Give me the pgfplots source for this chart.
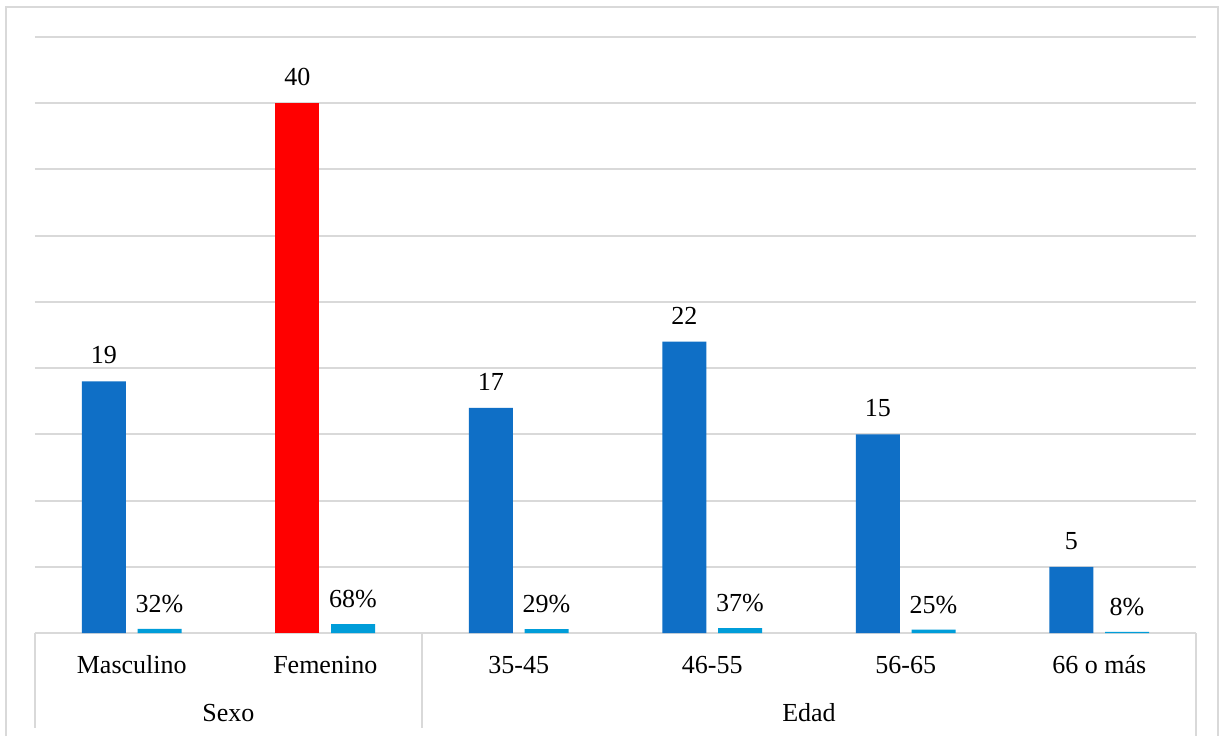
\documentclass[border=0pt]{standalone}
\usepackage{pgfplots}
\pgfplotsset{compat=1.18}
\usepackage{fontspec}
\setmainfont{Liberation Serif}
\definecolor{barblue}{HTML}{0F6FC6}
\definecolor{barlight}{HTML}{009DD9}
\definecolor{gridgray}{HTML}{D9D9D9}
\newcommand{\lblfont}{\fontsize{13}{15}\selectfont}
\begin{document}
\begin{tikzpicture}
\useasboundingbox[fill=white] (0,0) rectangle (611pt,-368pt);
% outer chart frame
\draw[gridgray, line width=1pt] (2.75pt,-368pt) -- (2.75pt,-3.5pt) -- (609pt,-3.5pt) -- (609pt,-368pt);
\begin{axis}[
  at={(17.5pt,-316.5pt)}, anchor=south west,
  scale only axis, width=580.5pt, height=298pt,
  xmin=-0.5, xmax=5.5, ymin=0, ymax=45,
  axis line style={draw=none},
  ytick={0,5,...,45}, yticklabels={},
  ymajorgrids, grid style={gridgray, line width=1pt},
  xtick={0,...,5},
  xticklabels={Masculino,Femenino,35-45,46-55,56-65,66 o más},
  major tick length=0pt,
  xticklabel style={font=\lblfont, anchor=center, yshift=-16pt},
  /pgf/number format/assume math mode=true,
  ybar, bar width=22pt,
  every node near coord/.append style={font=\lblfont, text=black, anchor=center},
  clip=false,
]
% number of respondents
\addplot[fill=barblue, draw=none, bar shift=-13.9pt, nodes near coords,
  every node near coord/.append style={yshift=13pt}]
  coordinates {(0,19) (2,17) (3,22) (4,15) (5,5)};
\addplot[fill=red, draw=none, bar shift=-13.9pt, nodes near coords,
  every node near coord/.append style={yshift=13pt}]
  coordinates {(1,40)};
% share of respondents
\addplot[fill=barlight, draw=none, bar shift=13.9pt,
  point meta=explicit symbolic, nodes near coords={\pgfplotspointmeta\%},
  every node near coord/.append style={yshift=12.5pt}]
  coordinates {(0,0.32)[32] (1,0.68)[68] (2,0.29)[29] (3,0.37)[37] (4,0.25)[25] (5,0.08)[8]};
% group boxes of the category axis
\draw[gridgray, line width=1pt] (axis cs:-0.5,0) -- ([yshift=-47.5pt]axis cs:-0.5,0);
\draw[gridgray, line width=1pt] (axis cs:1.5,0) -- ([yshift=-47.5pt]axis cs:1.5,0);
\draw[gridgray, line width=1pt] (axis cs:5.5,0) -- ([yshift=-51.5pt]axis cs:5.5,0);
\node[font=\lblfont, anchor=center] at ([yshift=-40pt]axis cs:0.5,0) {Sexo};
\node[font=\lblfont, anchor=center] at ([yshift=-40pt]axis cs:3.5,0) {Edad};
\end{axis}
\end{tikzpicture}
\end{document}
